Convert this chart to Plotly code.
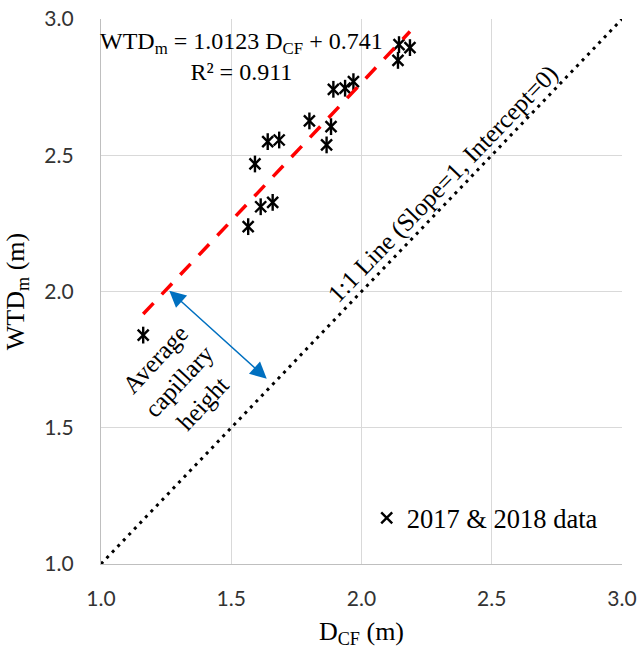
import plotly.graph_objects as go

# Measured data: capillary-fringe depth vs. measured water-table depth (m)
d_cf = [1.162, 1.565, 1.613, 1.659, 1.591, 1.640, 1.684, 1.800, 1.883, 1.866,
        1.892, 1.937, 1.969, 2.144, 2.186, 2.140]
wtd_m = [1.840, 2.238, 2.311, 2.327, 2.468, 2.550, 2.556, 2.626, 2.605, 2.538,
         2.742, 2.746, 2.770, 2.906, 2.895, 2.848]

# Linear fit reported on the chart
SLOPE = 1.0123
INTERCEPT = 0.741
R2 = 0.911

# 1:1 reference line end points (x = y)
one_to_one = [1.0, 3.0]

# Axis ticks
tick_vals = [1.0, 1.5, 2.0, 2.5, 3.0]
tick_text = ["1.0", "1.5", "2.0", "2.5", "3.0"]

SERIF = "Liberation Serif, Times New Roman, serif"
SANS = "Lato, Open Sans, sans-serif"

fit_x = [min(d_cf), max(d_cf)]
fit_y = [SLOPE * v + INTERCEPT for v in fit_x]

fig = go.Figure()

# 1:1 line
fig.add_trace(go.Scatter(
    x=one_to_one, y=one_to_one, mode="lines",
    line=dict(color="black", width=3, dash="3px,5px"),
    showlegend=False, hoverinfo="skip"))

# Data markers: X plus vertical bar gives a six-armed star
fig.add_trace(go.Scatter(
    x=d_cf, y=wtd_m, mode="markers", name="2017 & 2018 data",
    marker=dict(symbol="x-thin-open", size=11,
                line=dict(color="black", width=2.4), color="black")))
fig.add_trace(go.Scatter(
    x=d_cf, y=wtd_m, mode="markers", showlegend=False,
    marker=dict(symbol="line-ns-open", size=12,
                line=dict(color="black", width=2.4), color="black")))

# Fitted trend line
fig.add_trace(go.Scatter(
    x=fit_x, y=fit_y, mode="lines",
    line=dict(color="#ff0000", width=3.5, dash="15px,12px"),
    showlegend=False, hoverinfo="skip"))

axis_common = dict(
    range=[1.0, 3.0], tickvals=tick_vals, ticktext=tick_text,
    showgrid=True, gridcolor="#d9d9d9", gridwidth=1.3,
    showline=True, linecolor="#bfbfbf", linewidth=1.3, mirror=False,
    zeroline=False, ticks="", automargin=False,
    tickfont=dict(family=SANS, size=21, color="#333333"),
)

fig.update_layout(
    width=640, height=649,
    margin=dict(l=101, r=18, t=19, b=85),
    paper_bgcolor="white", plot_bgcolor="white",
    xaxis=dict(**axis_common, ticklabelstandoff=16,
               title=dict(text="D<sub>CF</sub> (m)", standoff=14,
                          font=dict(family=SERIF, size=26, color="black"))),
    yaxis=dict(**axis_common, ticklabelstandoff=22,
               title=dict(text="WTD<sub>m</sub> (m)", standoff=12,
                          font=dict(family=SERIF, size=26, color="black"))),
    legend=dict(x=0.51, y=0.084, xanchor="left", yanchor="middle",
                bgcolor="rgba(0,0,0,0)",
                font=dict(family=SERIF, size=26.5, color="black")),
    annotations=[
        dict(x=1.54, y=2.861, xref="x", yref="y", showarrow=False,
             text=f"WTD<sub>m</sub> = {SLOPE} D<sub>CF</sub> + {INTERCEPT}<br>R² = {R2}",
             font=dict(family=SERIF, size=24, color="black")),
        dict(x=2.313, y=2.394, xref="x", yref="y", showarrow=False,
             text="1:1 Line (Slope=1, Intercept=0)", textangle=-46,
             font=dict(family=SERIF, size=25, color="black")),
        dict(x=1.30, y=1.672, xref="x", yref="y", showarrow=False,
             text="Average<br>capillary<br>height", textangle=-47,
             font=dict(family=SERIF, size=25, color="black")),
        dict(x=1.2622, y=2.003, xref="x", yref="y",
             ax=1.642, ay=1.675, axref="x", ayref="y",
             text="", showarrow=True, arrowside="end+start",
             arrowhead=2, arrowsize=2.2, arrowwidth=1.5,
             arrowcolor="#0070c0"),
    ],
)

fig.write_html("out.html")
